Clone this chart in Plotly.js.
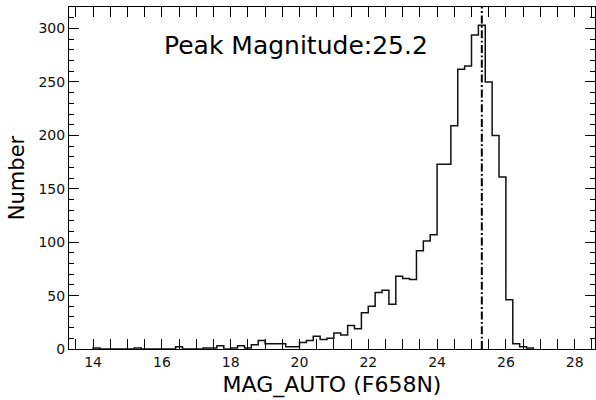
<!DOCTYPE html>
<html>
<head>
<meta charset="utf-8">
<script src="https://cdn.plot.ly/plotly-3.0.1.min.js"></script>
<style>html,body{margin:0;padding:0;background:#fff;}#chart{width:596px;height:400px;}</style>
</head>
<body>
<div id="chart"></div>
<script>
// Histogram of MAG_AUTO (F658N), bin width 0.2 starting at 14.0
const binStart = 14.0;
const binWidth = 0.2;
const counts = [
  1, 0, 0, 0, 0, 0, 1, 0, 0, 0,
  0, 0, 2, 0, 0, 0, 1, 1, 3, 0,
  1, 3, 1, 4, 8, 5, 5, 5, 2, 2,
  6, 8, 12, 9, 10, 15, 13, 22, 19, 34,
  40, 53, 55, 42, 68, 66, 65, 92, 101, 107,
  173, 173, 209, 262, 265, 294, 303, 250, 200, 161,
  46, 5, 2, 1
];
const peakMagnitude = 25.3;
const peakLabel = "Peak Magnitude:25.2";
const xTickVals = [14, 16, 18, 20, 22, 24, 26, 28];
const yTickVals = [0, 50, 100, 150, 200, 250, 300];

// step outline (like histtype='step')
const edges = counts.map((_, i) => +(binStart + binWidth * i).toFixed(4));
edges.push(+(binStart + binWidth * counts.length).toFixed(4));
const stepX = [edges[0]].concat(edges);
const stepY = [0].concat(counts).concat([0]);

const font = 'DejaVu Sans, sans-serif';

const traces = [
  {
    x: stepX, y: stepY, type: 'scatter', mode: 'lines',
    line: {shape: 'hv', color: '#111', width: 1.5},
    hoverinfo: 'skip', showlegend: false
  },
  {
    x: [peakMagnitude, peakMagnitude], y: [0, 1], yaxis: 'y2',
    type: 'scatter', mode: 'lines',
    line: {color: '#000', width: 2, dash: '8px,2.5px,1.8px,2.5px'},
    hoverinfo: 'skip', showlegend: false
  }
];

const layout = {
  width: 596, height: 400,
  margin: {l: 69, r: 1, t: 7, b: 51},
  paper_bgcolor: '#fff', plot_bgcolor: '#fff',
  font: {family: font, color: '#000'},
  xaxis: {
    range: [13.3, 28.59],
    tickvals: xTickVals, ticktext: xTickVals.map(String),
    ticks: 'inside', ticklen: 10, tickwidth: 1, tickcolor: '#000',
    minor: {ticks: 'inside', dtick: 0.5, tick0: 0, ticklen: 5, tickwidth: 1, tickcolor: '#000', showgrid: false},
    showline: true, linecolor: '#000', linewidth: 1, mirror: 'allticks',
    showgrid: false, zeroline: false,
    tickfont: {family: font, size: 14, color: '#111'},
    title: {text: 'MAG_AUTO (F658N)', font: {family: font, size: 22, color: '#000'}, standoff: 7}
  },
  yaxis: {
    range: [0, 320.2],
    tickvals: yTickVals, ticktext: yTickVals.map(String),
    ticks: 'inside', ticklen: 10, tickwidth: 1, tickcolor: '#000',
    minor: {ticks: 'inside', dtick: 10, tick0: 0, ticklen: 5, tickwidth: 1, tickcolor: '#000', showgrid: false},
    showline: true, linecolor: '#000', linewidth: 1, mirror: 'allticks',
    showgrid: false, zeroline: false,
    tickfont: {family: font, size: 14, color: '#111'},
    title: {text: 'Number', font: {family: font, size: 21, color: '#000'}, standoff: 8}
  },
  yaxis2: {range: [0, 1], overlaying: 'y', visible: false, fixedrange: true},
  annotations: [{
    x: 16.0, y: 284, xref: 'x', yref: 'y', xanchor: 'left', yanchor: 'middle',
    text: peakLabel, showarrow: false,
    font: {family: font, size: 25, color: '#000'}
  }]
};

Plotly.newPlot('chart', traces, layout, {displayModeBar: false, staticPlot: true});
</script>
</body>
</html>
